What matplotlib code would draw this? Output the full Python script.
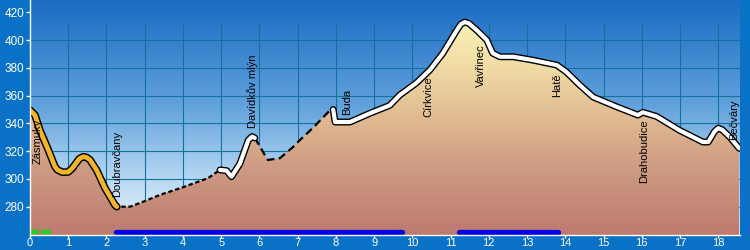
import numpy as np
import matplotlib
matplotlib.use("Agg")
import matplotlib.pyplot as plt
from matplotlib.colors import LinearSegmentedColormap
from matplotlib.patches import Polygon

plt.rcParams['font.family'] = ['Liberation Sans', 'DejaVu Sans']

# Elevation profile (km, m)
dist = [0.0, 0.13, 0.26, 0.48, 0.65, 0.72, 0.85, 1.0, 1.1, 1.18, 1.29, 1.39, 1.48, 1.57, 1.74, 1.96, 2.22,
        2.27, 2.62, 2.96, 3.4, 4.0, 4.66, 4.97,
        5.14, 5.27, 5.49, 5.71, 5.81, 5.88,
        6.22, 6.54, 6.88, 7.06, 7.41, 7.85, 7.93,
        7.98, 8.37, 8.9, 9.41, 9.67, 10.1, 10.46, 10.8, 11.16, 11.27, 11.37, 11.48, 11.69, 11.95,
        12.1, 12.29, 12.64, 13.15, 13.78, 14.03, 14.38, 14.73, 15.34, 15.9, 16.03,
        16.39, 16.99, 17.6, 17.74, 17.9, 18.0, 18.1, 18.31, 18.55]
elev = [349.6, 346, 335, 320.8, 309, 306.5, 304.8, 305, 307.5, 310.5, 314.5, 316, 315.5, 313.7, 306.5, 293.5, 281.3,
        280, 280, 283.6, 288.5, 294, 300.6, 306.5,
        306, 301.6, 311, 328, 330.5, 329.5,
        313.6, 315, 323, 328, 337, 349.6, 350,
        341, 341, 347.4, 353, 360.4, 369, 378.5, 390.6, 407, 411.5, 413, 412, 407, 400,
        390.6, 388, 388, 385.6, 382, 377, 367.6, 359, 352, 346, 348,
        345, 335, 326.6, 326.6, 334, 336.6, 335.5, 330, 322]

# Segment boundaries (km) and styles
seg_orange = (0.0, 2.27)
seg_dotted = (2.22, 4.97)
seg_white1 = (4.97, 5.88)
seg_dashed = (5.88, 7.93)
seg_white2 = (7.93, 18.55)

# Waypoint labels
wp_names = ["Zásmuky", "Doubravčany", "Davídkův mlýn", "Buda", "Církvice",
            "Vavřinec", "Hatě", "Drahobudice", "Bečváry"]
wp_km = [0.2, 2.28, 5.83, 8.3, 10.42, 11.8, 13.78, 16.06, 18.41]
wp_elev = [311, 287, 336.6, 346, 344.7, 366, 359, 297, 328]

# Bottom surface bars
green_span = (0.0, 0.58)
blue_spans = [(2.25, 9.72), (11.22, 13.8)]
bar_level = 262

xticks = list(range(0, 19))
yticks = list(range(280, 421, 20))

YMIN, YMAX = 259.6, 428.9
XMIN, XMAX = 0.0, 18.57

fig = plt.figure(figsize=(7.5, 2.5), dpi=100)
fig.patch.set_facecolor('#0A72C6')
ax = fig.add_axes([30/750, 15/250, 710/750, 235/250])
ax.set_xlim(XMIN, XMAX)
ax.set_ylim(YMIN, YMAX)
ax.set_facecolor('none')

# sky gradient
sky = LinearSegmentedColormap.from_list('sky', [(0, '#EEF6FC'), (0.25, '#B4D6F2'),
                                                (0.55, '#62A2DC'), (1, '#1A6CC4')])
grad = np.linspace(0, 1, 256).reshape(-1, 1)
ax.imshow(grad, extent=[XMIN, XMAX, YMIN, YMAX], origin='lower', aspect='auto',
          cmap=sky, zorder=0)

# grid
ax.hlines([t for t in yticks if t <= 400], XMIN, XMAX, colors='#12739A', lw=0.8, zorder=1)
ax.vlines(xticks, YMIN, 412, colors='#12739A', lw=0.8, zorder=1)

# terrain gradient fill
d = np.array(dist); e = np.array(elev)
poly_xy = np.vstack([np.column_stack([d, e]), [[d[-1], YMIN], [d[0], YMIN]]])
poly = Polygon(poly_xy, closed=True, facecolor='none', edgecolor='none')
ax.add_patch(poly)
terr = LinearSegmentedColormap.from_list('terr', [(0, '#BE7A70'), (0.3, '#CD9A82'),
                                                  (0.5, '#DDB48E'), (0.8, '#F2DEA6'),
                                                  (1, '#FAF2B8')])
im = ax.imshow(grad, extent=[XMIN, XMAX, YMIN, 415], origin='lower', aspect='auto',
               cmap=terr, zorder=2)
im.set_clip_path(poly)

def seg(a, b):
    m = (d >= a - 1e-9) & (d <= b + 1e-9)
    return d[m], e[m]

x, y = seg(*seg_orange)
ax.plot(x, y, color='black', lw=5.5, solid_capstyle='round', solid_joinstyle='round', zorder=4)
ax.plot(x, y, color='#F2B52A', lw=3.4, solid_capstyle='round', solid_joinstyle='round', zorder=5)

for s in (seg_white1, seg_white2):
    x, y = seg(*s)
    ax.plot(x, y, color='black', lw=5.0, solid_capstyle='round', solid_joinstyle='round', zorder=4)
    ax.plot(x, y, color='white', lw=3.0, solid_capstyle='round', solid_joinstyle='round', zorder=5)

x, y = seg(*seg_dotted)
ax.plot(x, y, color='black', lw=1.6, linestyle=(0, (2, 1.2)), zorder=4)
x, y = seg(*seg_dashed)
ax.plot(x, y, color='black', lw=1.6, linestyle=(0, (3.5, 2)), zorder=4)

# bottom bars
ax.plot(green_span, [bar_level]*2, color='#22D022', lw=3.2, linestyle=(0, (2.0, 0.7)),
        dash_capstyle='butt', zorder=6)
for a, b in blue_spans:
    ax.plot([a, b], [bar_level]*2, color='#0000E6', lw=3.8, solid_capstyle='round', zorder=6)

# labels
for n, k, v in zip(wp_names, wp_km, wp_elev):
    ax.text(k, v, n, rotation=90, ha='center', va='bottom', fontsize=8, color='black', zorder=7)

# axes styling
for sp in ('top', 'right'):
    ax.spines[sp].set_visible(False)
for sp in ('left', 'bottom'):
    ax.spines[sp].set_color('white')
    ax.spines[sp].set_linewidth(1.0)
    ax.spines[sp].set_zorder(8)
ax.set_xticks(xticks)
ax.set_yticks(yticks)
ax.tick_params(axis='y', colors='white', labelsize=8.5, length=3, width=1, pad=1)
ax.tick_params(axis='x', colors='white', labelsize=8, length=2, width=1, pad=0.5)

fig.savefig('out.png', dpi=100, facecolor=fig.get_facecolor())
